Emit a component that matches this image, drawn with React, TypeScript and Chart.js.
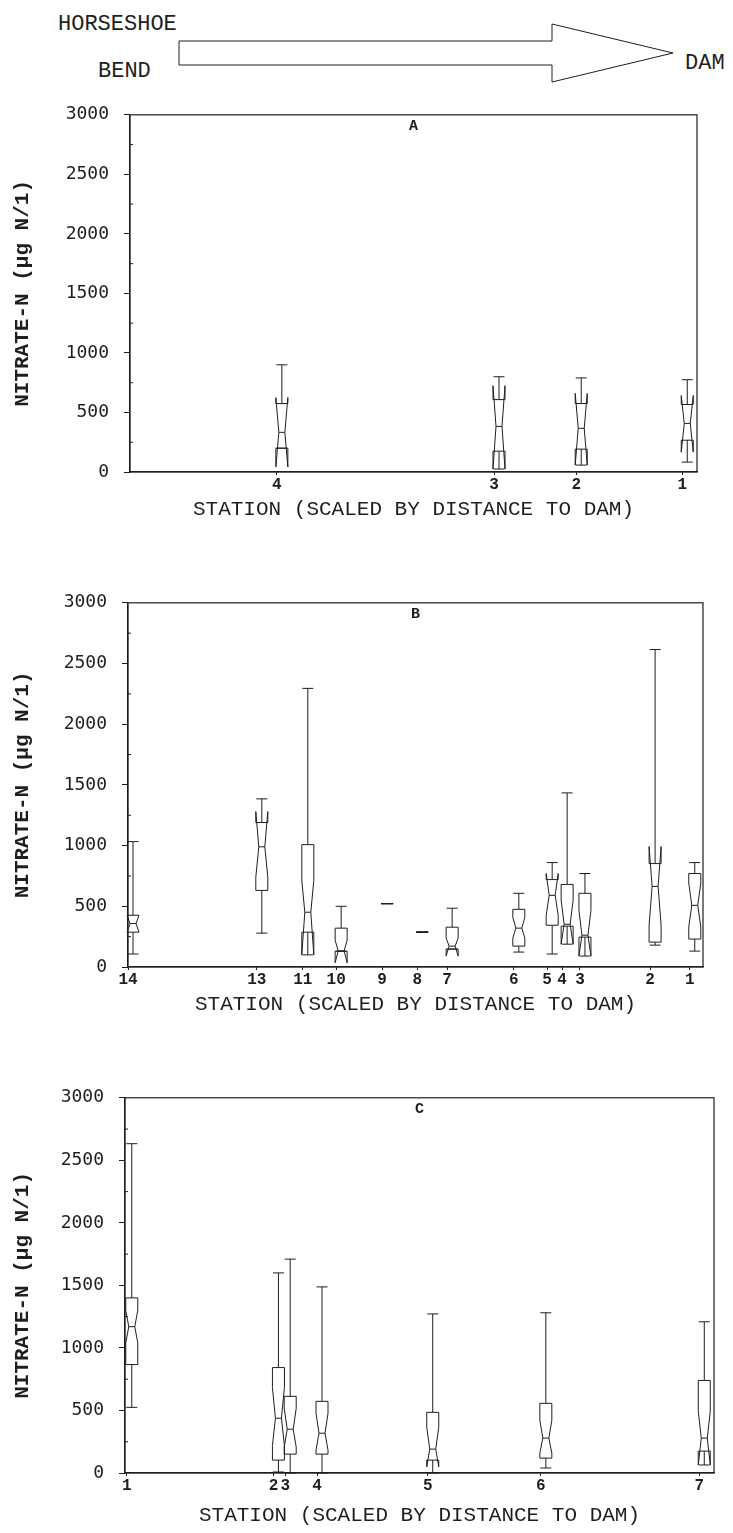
import React, { useEffect, useRef } from 'react';
import { Chart, registerables } from 'chart.js';

Chart.register(...registerables);

// ---------- Panel A ----------
const stationsA = ['4', '3', '2', '1'];
// relative position along the reach (% of axis, Horseshoe Bend = 0, dam = 100)
const positionA = [25.9, 64.2, 78.7, 97.4];
const maxA = [900, 800, 790, 775];
const notchHiA = [625, 725, 660, 642];
const q3A = [575, 608, 575, 567];
const medianA = [333, 383, 367, 408];
const q1A = [200, 175, 192, 267];
const notchLoA = [42, 25, 58, 167];
const minA = [200, 25, 58, 83];

// ---------- Panel B ----------
const stationsB = ['14', '13', '11', '10', '9', '8', '7', '6', '5', '4', '3', '2', '1'];
const positionB = [0, 22.4, 30.4, 36.2, 44.2, 50.3, 55.5, 67.1, 72.9, 75.5, 78.6, 90.8, 97.7];
const maxB = [1033, 1385, 2295, 500, 522, 287, 484, 607, 860, 1434, 770, 2615, 860];
const notchHiB = [426, 1280, 713, 221, 522, 287, 238, 410, 770, 550, 467, 992, 690];
const q3B = [426, 1190, 1008, 320, 522, 287, 328, 475, 720, 680, 607, 852, 770];
const medianB = [358, 990, 451, 133, 522, 287, 172, 320, 590, 352, 262, 664, 508];
const q1B = [287, 631, 287, 130, 522, 287, 148, 172, 344, 336, 246, 205, 230];
const notchLoB = [287, 740, 100, 35, 522, 287, 90, 238, 426, 188, 90, 345, 330];
const minB = [107, 279, 100, 130, 522, 287, 148, 123, 107, 188, 90, 180, 131];

// ---------- Panel C ----------
const stationsC = ['1', '2', '3', '4', '5', '6', '7'];
const positionC = [0.3, 25.2, 27.2, 32.6, 51.4, 70.6, 97.5];
const maxC = [2633, 1600, 1710, 1488, 1272, 1281, 1209];
const notchHiC = [1300, 684, 517, 477, 366, 422, 494];
const q3C = [1400, 843, 613, 573, 485, 557, 740];
const medianC = [1170, 438, 350, 318, 191, 279, 279];
const q1C = [867, 103, 151, 151, 103, 119, 175];
const notchLoC = [1040, 220, 207, 183, 48, 159, 64];
const minC = [525, 8, 0, 0, 0, 40, 64];

const yTicks = [0, 500, 1000, 1500, 2000, 2500, 3000];
const yMinorTicks = [250, 750, 1250, 1750, 2250, 2750];
const xTitle = 'STATION (SCALED BY DISTANCE TO DAM)';
const yTitle = 'NITRATE-N (µg N/1)';

const INK = '#1e1e1e';
const MONO = '"Liberation Mono", "DejaVu Sans Mono", monospace';

type Spec = {
  letter: string;
  top: number;
  bottom: number;
  left: number;
  right: number;
  titleGap: number;
  stations: string[];
  position: number[];
  max: number[];
  notchHi: number[];
  q3: number[];
  median: number[];
  q1: number[];
  notchLo: number[];
  min: number[];
};

const specs: Spec[] = [
  { letter: 'A', top: 113, bottom: 472, left: 130, right: 697, titleGap: 37,
    stations: stationsA, position: positionA, max: maxA, notchHi: notchHiA, q3: q3A,
    median: medianA, q1: q1A, notchLo: notchLoA, min: minA },
  { letter: 'B', top: 601, bottom: 967, left: 128, right: 703, titleGap: 37,
    stations: stationsB, position: positionB, max: maxB, notchHi: notchHiB, q3: q3B,
    median: medianB, q1: q1B, notchLo: notchLoB, min: minB },
  { letter: 'C', top: 1096, bottom: 1473, left: 125, right: 714, titleGap: 42,
    stations: stationsC, position: positionC, max: maxC, notchHi: notchHiC, q3: q3C,
    median: medianC, q1: q1C, notchLo: notchLoC, min: minC },
];

function makeBoxPlugin(spec: Spec) {
  return {
    id: 'notchedBoxes' + spec.letter,
    afterDatasetsDraw(chart: any) {
      const { ctx, chartArea } = chart;
      const xs = chart.scales.x;
      const ys = chart.scales.y;
      ctx.save();
      // frame (top and right edges)
      ctx.strokeStyle = INK;
      ctx.lineWidth = 1.2;
      ctx.strokeRect(chartArea.left, chartArea.top, chartArea.right - chartArea.left, chartArea.bottom - chartArea.top);
      // minor ticks on the value axis (inside)
      ctx.lineWidth = 1;
      ctx.beginPath();
      yMinorTicks.forEach((v) => {
        const py = ys.getPixelForValue(v);
        ctx.moveTo(chartArea.left, py);
        ctx.lineTo(chartArea.left + 3, py);
      });
      ctx.stroke();
      // panel letter
      ctx.fillStyle = INK;
      ctx.font = 'bold 15px ' + MONO;
      ctx.textAlign = 'center';
      ctx.textBaseline = 'top';
      ctx.fillText(spec.letter, (chartArea.left + chartArea.right) / 2, chartArea.top + 4);

      const halfW = 6;
      const notchD = 3;
      const capHalf = 5.5;
      const shift = 5;
      ctx.lineWidth = 1;
      ctx.strokeStyle = INK;
      spec.position.forEach((p, i) => {
        const cx = xs.getPixelForValue(p) + shift;
        const L = cx - halfW;
        const R = cx + halfW;
        const yMax = ys.getPixelForValue(spec.max[i]);
        const yMin = ys.getPixelForValue(spec.min[i]);
        const yQ3 = ys.getPixelForValue(spec.q3[i]);
        const yQ1 = ys.getPixelForValue(spec.q1[i]);
        const yMed = ys.getPixelForValue(spec.median[i]);
        const yNh = ys.getPixelForValue(spec.notchHi[i]);
        const yNl = ys.getPixelForValue(spec.notchLo[i]);
        // whiskers
        ctx.beginPath();
        ctx.moveTo(cx, yQ3);
        ctx.lineTo(cx, yMax);
        ctx.moveTo(cx - capHalf, yMax);
        ctx.lineTo(cx + capHalf, yMax);
        ctx.moveTo(cx, yQ1);
        ctx.lineTo(cx, yMin);
        ctx.moveTo(cx - capHalf, yMin);
        ctx.lineTo(cx + capHalf, yMin);
        ctx.stroke();
        // notched box outline
        ctx.beginPath();
        ctx.moveTo(L, yQ1);
        ctx.lineTo(L, yNl);
        ctx.lineTo(L + notchD, yMed);
        ctx.lineTo(L, yNh);
        ctx.lineTo(L, yQ3);
        ctx.lineTo(R, yQ3);
        ctx.lineTo(R, yNh);
        ctx.lineTo(R - notchD, yMed);
        ctx.lineTo(R, yNl);
        ctx.lineTo(R, yQ1);
        ctx.closePath();
        ctx.stroke();
        // median
        ctx.beginPath();
        ctx.moveTo(L + notchD, yMed);
        ctx.lineTo(R - notchD, yMed);
        ctx.stroke();
      });
      ctx.restore();
    },
  };
}

function Panel({ spec }: { spec: Spec }) {
  const ref = useRef<HTMLCanvasElement | null>(null);
  const canvasTop = spec.top - 24;
  const canvasBottom = Math.min(1533, spec.bottom + 60);
  const height = canvasBottom - canvasTop;
  const xAxisH = canvasBottom - spec.bottom;

  useEffect(() => {
    if (!ref.current) return;
    const chart = new Chart(ref.current, {
      type: 'scatter',
      data: {
        datasets: [
          {
            data: spec.position.map((p, i) => ({ x: p, y: spec.median[i] })),
            pointRadius: 0,
            showLine: false,
          },
        ],
      },
      options: {
        animation: false,
        responsive: false,
        maintainAspectRatio: false,
        devicePixelRatio: 1,
        events: [],
        layout: { padding: { top: spec.top - canvasTop, right: 733 - spec.right, left: 0, bottom: 0 } },
        plugins: { legend: { display: false }, tooltip: { enabled: false }, title: { display: false } },
        scales: {
          x: {
            type: 'linear',
            min: 0,
            max: 100,
            afterFit: (a: any) => { a.height = xAxisH; },
            afterBuildTicks: (a: any) => { a.ticks = spec.position.map((v) => ({ value: v })); },
            ticks: {
              autoSkip: false,
              maxRotation: 0,
              minRotation: 0,
              padding: 0,
              color: INK,
              font: { family: MONO, size: 16, weight: 'bold' },
              callback: (_v: any, i: number) => spec.stations[i],
            },
            grid: { drawOnChartArea: false, drawTicks: true, tickLength: 3, color: INK },
            border: { display: true, color: INK, width: 1.2 },
            title: {
              display: true,
              text: xTitle,
              color: INK,
              font: { family: MONO, size: 21 },
              padding: { top: 0, bottom: xAxisH - spec.titleGap - 12.6 },
            },
          },
          y: {
            type: 'linear',
            min: 0,
            max: 3000,
            afterFit: (a: any) => { a.width = spec.left; },
            afterBuildTicks: (a: any) => { a.ticks = yTicks.map((v) => ({ value: v })); },
            ticks: {
              padding: 15,
              color: INK,
              font: { family: '"DejaVu Sans Mono", monospace', size: 18 },
              callback: (v: any) => String(v),
            },
            grid: { drawOnChartArea: false, drawTicks: true, tickLength: 6, color: INK },
            border: { display: true, color: INK, width: 1.2 },
            title: {
              display: true,
              text: yTitle,
              color: INK,
              font: { family: MONO, size: 21, weight: 'bold' },
              padding: { top: 10, bottom: 0 },
            },
          },
        },
      } as any,
      plugins: [makeBoxPlugin(spec)],
    });
    return () => chart.destroy();
  }, []);

  return (
    <canvas
      ref={ref}
      width={733}
      height={height}
      style={{ position: 'absolute', left: 0, top: canvasTop, width: 733, height }}
    />
  );
}

export default function App() {
  return (
    <div style={{ position: 'absolute', left: 0, top: 0, width: 733, height: 1533, background: '#fff' }}>
      <svg width={733} height={92} style={{ position: 'absolute', left: 0, top: 0 }}>
        <polygon
          points="179,41 552,41 552,24 673,53 552,82 552,65 179,65"
          fill="#fff"
          stroke={INK}
          strokeWidth={1}
        />
        <text x={58} y={30} fontFamily={MONO} fontSize={22} fill={INK}>HORSESHOE</text>
        <text x={98} y={77} fontFamily={MONO} fontSize={22} fill={INK}>BEND</text>
        <text x={685} y={69} fontFamily={MONO} fontSize={22} fill={INK}>DAM</text>
      </svg>
      {specs.map((s) => (
        <Panel key={s.letter} spec={s} />
      ))}
    </div>
  );
}
